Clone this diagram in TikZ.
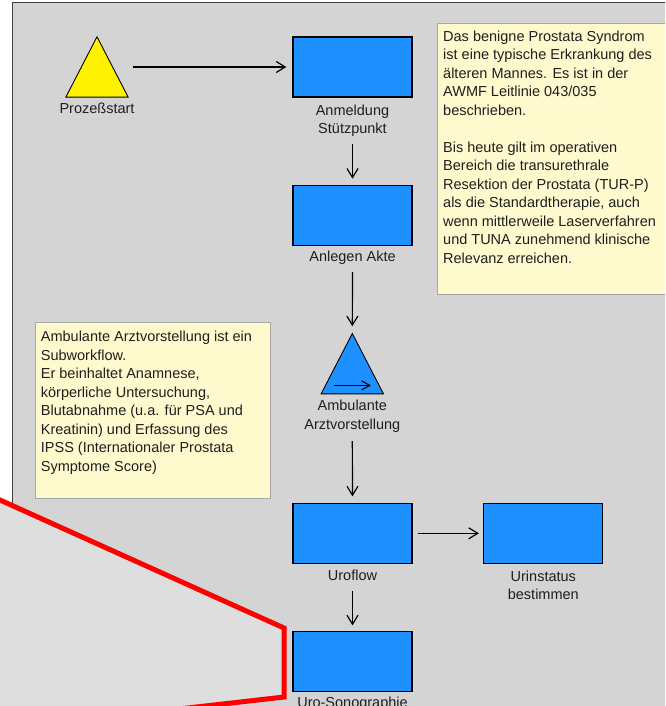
\documentclass[tikz,border=0pt]{standalone}
\usepackage{fontspec}
\setmainfont{Liberation Sans}
\usetikzlibrary{arrows.meta}
\definecolor{panelgray}{HTML}{D4D4D4}
\definecolor{lightgray2}{HTML}{DEDEDE}
\definecolor{taskblue}{HTML}{1E90FF}
\definecolor{notefill}{HTML}{FFF9CE}
\definecolor{noteborder}{HTML}{A8A8A8}
\definecolor{panelborder}{HTML}{404040}
\begin{document}
\begin{tikzpicture}[x=1pt,y=-1pt,
  every node/.style={font=\fontsize{14.5}{18.5}\selectfont, inner sep=0pt, text=black!88},
  task/.style={draw=black, line width=1.3pt, fill=taskblue, minimum width=119pt, minimum height=60pt},
  trinode/.style={minimum width=62pt, minimum height=60pt},
  lbl/.style={anchor=north, align=center},
  notebox/.style={draw=noteborder, line width=0.8pt, fill=notefill},
  notetext/.style={anchor=north west, align=left},
  arr/.style={-{Straight Barb[length=9pt,width=11pt]}, line width=1.2pt},
  redline/.style={draw=red, line width=5pt, line join=miter}
]
\useasboundingbox (0,0) rectangle (665,706);
\clip (0,0) rectangle (665,706);
\fill[white] (0,0) rectangle (665,706);
% panel
\draw[fill=panelgray, draw=panelborder, line width=1pt] (12,2.5) rectangle (700,780);

% start triangle
\node[trinode] (start) at (97,67) {};
\draw[fill=yellow, draw=black, line width=0.9pt] (start.north) -- (start.south west) -- (start.south east) -- cycle;
\node[lbl] (startlab) at (97,102.4) {Prozeßstart};

% tasks
\node[task] (anm) at (352.5,67) {};
\node[lbl] (anmlab) at (352.5,104.4) {Anmeldung\\Stützpunkt};
\node[task] (akte) at (352.5,215.3) {};
\node[lbl] (aktelab) at (352.5,251.1) {Anlegen Akte};

% subworkflow triangle
\node[trinode] (amb) at (352.3,363.7) {};
\draw[fill=taskblue, draw=black, line width=0.9pt] (amb.north) -- (amb.south west) -- (amb.south east) -- cycle;
\draw[arr, line width=1.1pt, -{Straight Barb[length=8pt,width=9pt]}] ([shift={(-18,-8.5)}]amb.south) -- ([shift={(18.5,-8.5)}]amb.south);
\node[lbl] (amblab) at (352.3,400.1) {Ambulante\\Arztvorstellung};

\node[task] (uro) at (352.5,533.3) {};
\node[lbl] (urolab) at (352.5,570.1) {Uroflow};
\node[task] (urin) at (543.3,533.3) {};
\node[lbl] (urinlab) at (543.3,570.3) {Urinstatus\\bestimmen};
\node[task] (sono) at (352.5,661.3) {};
\node[lbl] (sonolab) at (352.5,697.1) {Uro-Sonographie};

% connectors
\draw[arr, shorten <=5pt, shorten >=6pt] (start.east) -- (anm.west);
\draw[arr, shorten <=7.5pt, shorten >=6pt] (anmlab.south) -- (akte.north);
\draw[arr, shorten <=7.2pt, shorten >=7.3pt] (aktelab.south) -- (amb.north);
\draw[arr, shorten <=8.6pt, shorten >=6.3pt] (amblab.south) -- (uro.north);
\draw[arr, shorten <=5.4pt, shorten >=4.3pt] (uro.east) -- (urin.west);
\draw[arr, shorten <=10.3pt, shorten >=5.3pt] (urolab.south) -- (sono.north);

% notes
\draw[notebox] (437,23) rectangle (700,294);
\node[notetext] (note1) at (443,30.4) {Das benigne Prostata Syndrom\\ist eine typische Erkrankung des\\älteren Mannes. Es ist in der\\AWMF Leitlinie 043/035\\beschrieben.\\[18.5pt]Bis heute gilt im operativen\\Bereich die transurethrale\\Resektion der Prostata (TUR-P)\\als die Standardtherapie, auch\\wenn mittlerweile Laserverfahren\\und TUNA zunehmend klinische\\Relevanz erreichen.};
\draw[notebox] (35,322) rectangle (270,498);
\node[notetext] (note2) at (40.7,331.1) {Ambulante Arztvorstellung ist ein\\Subworkflow.\\Er beinhaltet Anamnese,\\körperliche Untersuchung,\\Blutabnahme (u.a. für PSA und\\Kreatinin) und Erfassung des\\IPSS (Internationaler Prostata\\Symptome Score)};

% magnifier overlay
\fill[lightgray2] (-10,495.5) -- (284,628) -- (284,697) -- (100,718) -- (-10,730) -- cycle;
\draw[redline] (-10,495.5) -- (284,628) -- (284,697) -- (100,718);
\end{tikzpicture}
\end{document}
